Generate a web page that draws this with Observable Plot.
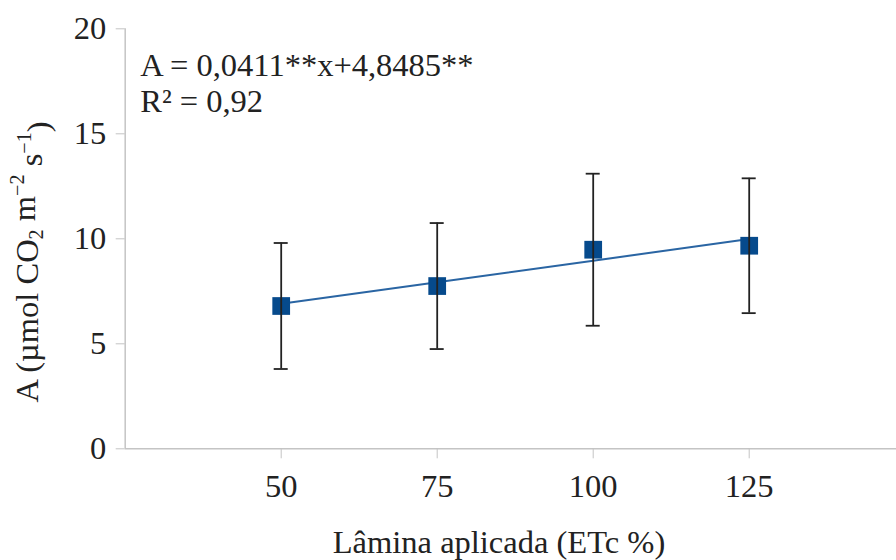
<!DOCTYPE html>
<html><head><meta charset="utf-8">
<script src="https://cdn.jsdelivr.net/npm/d3@7"></script>
<script src="https://cdn.jsdelivr.net/npm/@observablehq/plot@0.6"></script>
<style>
body{margin:0;background:#fff;}
#chart svg{display:block;}
</style></head><body><div id="chart"></div>
<script>
// Data
const lamina = [50, 75, 100, 125];              // Lâmina aplicada (ETc %)
const photosynthesis = [6.8, 7.75, 9.48, 9.67];  // A (µmol CO2 m-2 s-1)
const errorBar = [3.0, 3.0, 3.62, 3.21];
const xTicks = [50, 75, 100, 125];
const yTicks = [0, 5, 10, 15, 20];
const slope = 0.0411;
const intercept = 4.8485;
const equationText = "A = 0,0411**x+4,8485**";
const r2Text = "R² = 0,92";
const xLabel = "Lâmina aplicada (ETc %)";

const points = lamina.map((x, i) => ({x, y: photosynthesis[i], lo: photosynthesis[i] - errorBar[i], hi: photosynthesis[i] + errorBar[i]}));
const fit = lamina.map(x => ({x, y: intercept + slope * x}));

const FONT = "'Liberation Serif', 'Times New Roman', serif";
const FS = 32.5;
const AXIS = "#c4c4c4";
const INK = "#222";

const chart = Plot.plot({
  width: 896,
  height: 560,
  marginTop: 28.3,
  marginBottom: 111.7,
  marginLeft: 124.7,
  marginRight: 0,
  style: {fontFamily: FONT, fontSize: FS + "px", background: "#fff", color: INK},
  x: {domain: [25, 150], range: [124.7, 904.7]},
  y: {domain: [0, 20], range: [448.3, 28.3]},
  marks: [
    Plot.ruleX([25], {stroke: AXIS, strokeWidth: 1.5}),
    Plot.ruleY([0], {stroke: AXIS, strokeWidth: 1.5}),
    Plot.axisY({ticks: yTicks, tickSize: 9, tickPadding: 10, stroke: AXIS, fill: INK, label: null, tickFormat: d => String(d)}),
    Plot.axisX({ticks: xTicks, tickSize: 10, tickPadding: 15, stroke: AXIS, fill: INK, label: null, tickFormat: d => String(d)}),
    Plot.line(fit, {x: "x", y: "y", stroke: "#2a65a3", strokeWidth: 2}),
    Plot.dot(points, {x: "x", y: "y", symbol: "square", r: 10, fill: "#064a8c", stroke: "none"}),
    Plot.ruleX(points, {x: "x", y1: "lo", y2: "hi", stroke: "#222", strokeWidth: 1.8}),
    Plot.ruleY(points, {y: "lo", x1: "x", x2: "x", insetLeft: -7, insetRight: -7, stroke: "#222", strokeWidth: 1.8}),
    Plot.ruleY(points, {y: "hi", x1: "x", x2: "x", insetLeft: -7, insetRight: -7, stroke: "#222", strokeWidth: 1.8}),
    Plot.text([equationText + "\n" + r2Text], {frameAnchor: "top-left", dx: 15, dy: 22, lineHeight: 1.1, fill: INK, fontSize: FS, textAnchor: "start"})
  ]
});

const svg = d3.select(chart);
// x axis title
svg.append("text")
  .attr("x", 499).attr("y", 553)
  .attr("text-anchor", "middle")
  .attr("fill", INK)
  .style("font-family", FONT).style("font-size", FS + "px")
  .text(xLabel);
// y axis title with sub/superscripts
const yl = svg.append("text")
  .attr("transform", "translate(38,262) rotate(-90)")
  .attr("text-anchor", "middle")
  .attr("fill", INK)
  .style("font-family", FONT).style("font-size", FS + "px");
yl.append("tspan").text("A (µmol CO");
yl.append("tspan").attr("font-size", "0.62em").attr("dy", "0.25em").text("2");
yl.append("tspan").attr("dy", "-0.25em").text(" m");
yl.append("tspan").attr("font-size", "0.62em").attr("dy", "-0.55em").text("−2");
yl.append("tspan").attr("dy", "0.55em").text(" s");
yl.append("tspan").attr("font-size", "0.62em").attr("dy", "-0.55em").text("−1");
yl.append("tspan").attr("dy", "0.55em").text(")");

document.getElementById("chart").append(chart);
</script></body></html>
